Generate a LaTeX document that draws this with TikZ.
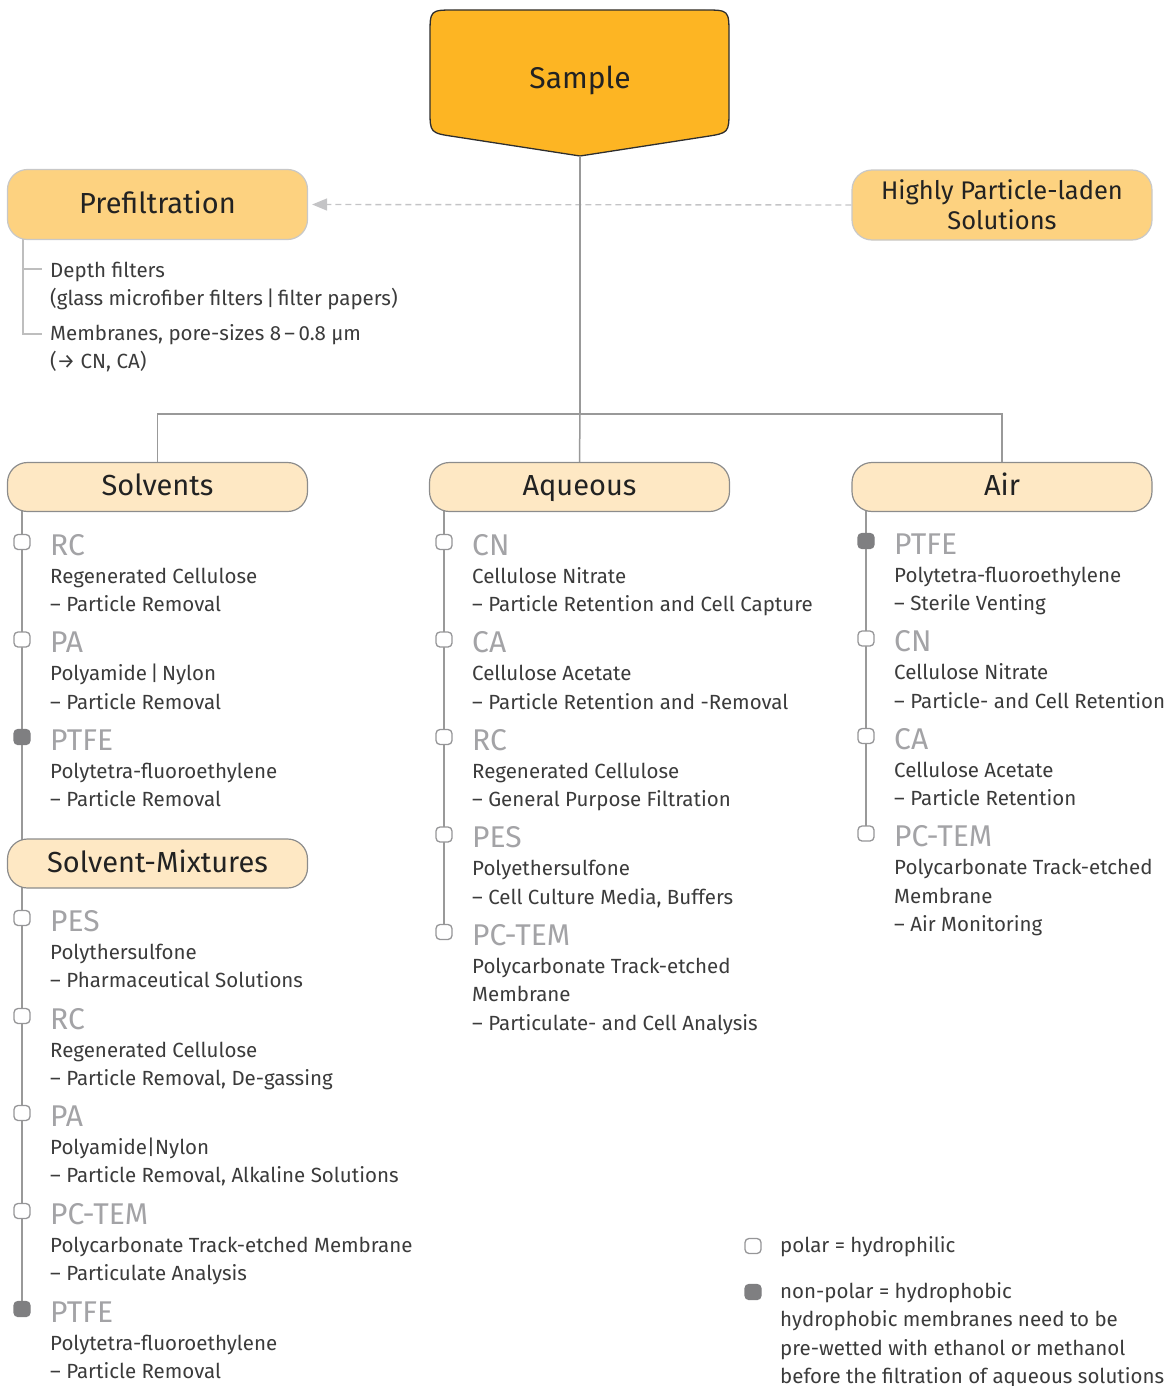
\documentclass[tikz,border=0pt]{standalone}
\usepackage{fontspec}
\setmainfont{Fira Sans}
\usetikzlibrary{arrows.meta,backgrounds}
\definecolor{samplefill}{RGB}{253,181,35}
\definecolor{sampleline}{RGB}{46,46,46}
\definecolor{prefill}{RGB}{253,210,128}
\definecolor{preline}{RGB}{200,200,200}
\definecolor{secfill}{RGB}{254,232,196}
\definecolor{secline}{RGB}{140,140,140}
\definecolor{txt}{RGB}{59,59,59}
\definecolor{boxtxt}{RGB}{34,34,34}
\definecolor{ttlgrey}{RGB}{163,163,166}
\definecolor{mkline}{RGB}{150,150,152}
\definecolor{mkfull}{RGB}{127,127,129}
\definecolor{conngrey}{RGB}{153,153,153}
\definecolor{lightconn}{RGB}{190,190,190}
\definecolor{dashgrey}{RGB}{196,196,198}
\tikzset{
  body/.style={anchor=base west, inner sep=0pt, text=txt, font=\fontsize{20.5}{28}\selectfont},
  ttl/.style={anchor=base west, inner sep=0pt, text=ttlgrey, font=\fontsize{30}{30}\selectfont},
  secbox/.style={draw=secline, fill=secfill, line width=1.2pt, rounded corners=20pt,
    minimum width=300pt, minimum height=49pt, inner sep=0pt, text=boxtxt,
    text height=21pt, text depth=3.6pt, font=\fontsize{29}{30}\selectfont},
  prebox/.style={draw=preline, fill=prefill, line width=1.2pt, rounded corners=20pt,
    minimum width=300pt, minimum height=70pt, inner sep=0pt, text=boxtxt, align=center},
  openmk/.style={draw=mkline, fill=white, line width=1.3pt, rounded corners=4pt,
    minimum width=16pt, minimum height=15pt, inner sep=0pt},
  fullmk/.style={draw=mkfull, fill=mkfull, line width=1.3pt, rounded corners=4pt,
    minimum width=16pt, minimum height=15pt, inner sep=0pt},
  conn/.style={draw=conngrey, line width=1.5pt},
  preconn/.style={draw=lightconn, line width=1.2pt},
  dasharrow/.style={draw=dashgrey, line width=1.4pt, dash pattern=on 6pt off 4pt,
    -{Triangle[length=15pt, width=12pt, fill=dashgrey]}}
}
% #1 id, #2 marker x, #3 title baseline, #4 marker style, #5 title, #6 lines
\newcommand\memEntry[6]{%
  \node[#4] (#1m) at (#2, #3-13) {};
  \node[ttl] (#1t) at (#2+28, #3) {#5};
  \foreach \linetxt [count=\i] in {#6} {
    \node[body] (#1l\i) at (#2+28, #3+28.4*\i) {\linetxt};
  }%
}
\begin{document}
\begin{tikzpicture}[x=1pt,y=-1pt]
\useasboundingbox (0,0) rectangle (1175,1386);

% Sample shape
\draw[fill=samplefill, draw=sampleline, line width=1.3pt]
  (455,10) -- (704,10) .. controls (729,10) and (729,10) .. (729,35)
  -- (729,110) .. controls (729,133) and (729,133) .. (705,136.7)
  -- (580,156) -- (455,136.7) .. controls (430,133) and (430,133) .. (430,110)
  -- (430,35) .. controls (430,10) and (430,10) .. (455,10) -- cycle;
\node[anchor=base, inner sep=0pt, text=boxtxt, font=\fontsize{30}{30}\selectfont] (sample) at (580,89) {Sample};
\coordinate (sampletip) at (580,156);
\coordinate (junc) at (580,414);

% Prefiltration & Highly particle-laden
\node[prebox, font=\fontsize{29}{30}\selectfont, text height=20pt, text depth=3pt] (prefilt) at (157.5,204.5) {Prefiltration};
\node[prebox, font=\fontsize{25.5}{30}\selectfont] (highly) at (1002,205) {Highly Particle-laden\\Solutions};
\draw[dasharrow, shorten >=4pt] (highly.west) -- (prefilt.east);

\node[body] (pf1) at (50,277) {Depth filters};
\node[body] (pf2) at (50,305.5) {(glass microfiber filters\,|\,filter papers)};
\node[body] (pf3) at (50,340) {Membranes, pore-sizes 8\,–\,0.8 µm};
\node[body] (pf4) at (50,368.5) {(→ CN, CA)};
\coordinate (pv) at (23,236);
\coordinate (pb1) at (42,269);
\coordinate (pb2) at (42,334);
\begin{scope}[on background layer]
  \draw[preconn] (pv) |- (pb2);
  \draw[preconn] (pv |- pb1) -- (pb1);
\end{scope}

% Section boxes
\node[secbox] (solvents) at (157.5,487) {Solvents};
\node[secbox] (aqueous) at (579.5,487) {Aqueous};
\node[secbox] (air) at (1002,487) {Air};
\node[secbox] (solmix) at (157.5,863.5) {Solvent-Mixtures};

% Tree from sample
\draw[conn] (sampletip) -- (junc);
\draw[conn] (solvents.north) |- (junc) -| (air.north);
\draw[conn] (junc) -- (aqueous.north);

% Solvents
\memEntry{s1}{22}{555}{openmk}{RC}{{Regenerated Cellulose},{– Particle Removal}}
\memEntry{s2}{22}{652.5}{openmk}{PA}{{Polyamide\,|\,Nylon},{– Particle Removal}}
\memEntry{s3}{22}{750}{fullmk}{PTFE}{{Polytetra-fluoroethylene},{– Particle Removal}}

% Solvent-Mixtures
\memEntry{m1}{22}{931}{openmk}{PES}{{Polythersulfone},{– Pharmaceutical Solutions}}
\memEntry{m2}{22}{1029}{openmk}{RC}{{Regenerated Cellulose},{– Particle Removal, De-gassing}}
\memEntry{m3}{22}{1126}{openmk}{PA}{{Polyamide|Nylon},{– Particle Removal, Alkaline Solutions}}
\memEntry{m4}{22}{1224}{openmk}{PC-TEM}{{Polycarbonate Track-etched Membrane},{– Particulate Analysis}}
\memEntry{m5}{22}{1322}{fullmk}{PTFE}{{Polytetra-fluoroethylene},{– Particle Removal}}

% Aqueous
\memEntry{q1}{444}{555}{openmk}{CN}{{Cellulose Nitrate},{– Particle Retention and Cell Capture}}
\memEntry{q2}{444}{652.5}{openmk}{CA}{{Cellulose Acetate},{– Particle Retention and -Removal}}
\memEntry{q3}{444}{750}{openmk}{RC}{{Regenerated Cellulose},{– General Purpose Filtration}}
\memEntry{q4}{444}{847.5}{openmk}{PES}{{Polyethersulfone},{– Cell Culture Media, Buffers}}
\memEntry{q5}{444}{945}{openmk}{PC-TEM}{{Polycarbonate Track-etched},{Membrane},{– Particulate- and Cell Analysis}}

% Air
\memEntry{a1}{866}{554}{fullmk}{PTFE}{{Polytetra-fluoroethylene},{– Sterile Venting}}
\memEntry{a2}{866}{651.5}{openmk}{CN}{{Cellulose Nitrate},{– Particle- and Cell Retention}}
\memEntry{a3}{866}{749}{openmk}{CA}{{Cellulose Acetate},{– Particle Retention}}
\memEntry{a4}{866}{846.5}{openmk}{PC-TEM}{{Polycarbonate Track-etched},{Membrane},{– Air Monitoring}}

% Vertical lines behind markers
\begin{scope}[on background layer]
  \draw[conn] (solvents.center -| s1m) -- (solmix.center -| s1m);
  \draw[conn] (solmix.center -| m1m) -- (m5m.center);
  \draw[conn] (aqueous.center -| q1m) -- (q5m.center);
  \draw[conn] (air.center -| a1m) -- (a4m.center);
\end{scope}

% Legend
\node[openmk] (lg1) at (753,1246) {};
\node[body] (lg1t) at (780,1252) {polar = hydrophilic};
\node[fullmk] (lg2) at (753,1292) {};
\node[body] (lg2t) at (780,1298) {non-polar = hydrophobic};
\node[body] (lg3t) at (780,1326.5) {hydrophobic membranes need to be};
\node[body] (lg4t) at (780,1355) {pre-wetted with ethanol or methanol};
\node[body] (lg5t) at (780,1383) {before the filtration of aqueous solutions};
\end{tikzpicture}
\end{document}
